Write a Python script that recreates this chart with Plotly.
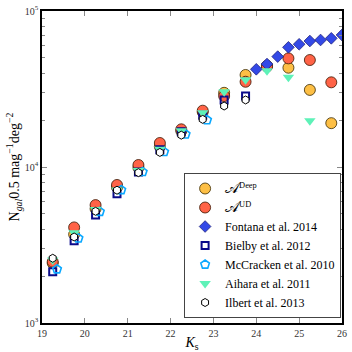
import plotly.graph_objects as go

# half-magnitude bin centres
ks = [19.25, 19.75, 20.25, 20.75, 21.25, 21.75, 22.25, 22.75,
      23.25, 23.75, 24.25, 24.75, 25.25, 25.75]

n_deep = [2420, 3700, 5400, 7400, 9900, 13500, 17000, 22500,
          29900, 38900, 44500, 43300, 31200, 19100]
n_ud = [2470, 4100, 5700, 7670, 10300, 14250, 17440, 22960,
        28500, 35200, 44000, 49700, 48500, 34900]

ks_fontana = [24.0, 24.25, 24.5, 24.75, 25.0, 25.25, 25.5, 25.75, 26.0]
n_fontana = [42300, 45700, 51000, 58500, 61200, 64200, 65200, 66800, 70200]

ks_bielby = [19.25, 19.75, 20.25, 20.75, 21.25, 21.75, 22.25, 22.75, 23.25, 23.75]
n_bielby = [2130, 3370, 4930, 6750, 9300, 12900, 16800, 21500, 26900, 28500]

ks_mccracken = [19.35, 19.85, 20.35, 20.85, 21.35, 21.85, 22.35, 22.85]
n_mccracken = [2210, 3490, 5170, 7120, 9300, 12500, 16200, 20000]

ks_aihara = [19.25, 19.75, 20.25, 20.75, 21.25, 21.75, 22.25, 22.75,
             23.25, 23.75, 24.25, 24.75, 25.25]
n_aihara = [2530, 3790, 5350, 7120, 9500, 13000, 17100, 22300,
            30400, 36300, 41400, 37600, 19800]

ks_ilbert = [19.25, 19.75, 20.25, 20.75, 21.25, 21.75, 22.25, 22.75, 23.25, 23.75]
n_ilbert = [2600, 3560, 5200, 7100, 9200, 12400, 16000, 20200, 24600, 26900]

FONT = "Liberation Serif"
CAL_A = "<span style='font-size:15px'>𝒜</span>"

fig = go.Figure()

fig.add_trace(go.Scatter(
    x=ks, y=n_deep, mode="markers", name=CAL_A + "<sup>Deep</sup>",
    marker=dict(symbol="circle", size=11, color="#FDBF45",
                line=dict(color="#3a2a00", width=0.8)),
))
fig.add_trace(go.Scatter(
    x=ks, y=n_ud, mode="markers", name=CAL_A + "<sup>UD</sup>",
    marker=dict(symbol="circle", size=11, color="#FF6347",
                line=dict(color="#3a1500", width=0.8)),
))
fig.add_trace(go.Scatter(
    x=ks_fontana, y=n_fontana, mode="markers", name="Fontana et al. 2014",
    marker=dict(symbol="diamond", size=9, color="#3349E6",
                line=dict(color="#15156e", width=0.7)),
))
fig.add_trace(go.Scatter(
    x=ks_bielby, y=n_bielby, mode="markers", name="Bielby et al. 2012",
    marker=dict(symbol="square-open", size=7, color="#0a0a8a",
                line=dict(width=2)),
))
fig.add_trace(go.Scatter(
    x=ks_mccracken, y=n_mccracken, mode="markers", name="McCracken et al. 2010",
    marker=dict(symbol="pentagon-open", size=9, color="#0AA8FF",
                line=dict(width=1.6)),
))
fig.add_trace(go.Scatter(
    x=ks_aihara, y=n_aihara, mode="markers", name="Aihara et al. 2011",
    marker=dict(symbol="triangle-down", size=10, color="#5EF2B8",
                line=dict(width=0)),
))
fig.add_trace(go.Scatter(
    x=ks_ilbert, y=n_ilbert, mode="markers", name="Ilbert et al. 2013",
    marker=dict(symbol="hexagon", size=8, color="white",
                line=dict(color="black", width=1)),
))

axis_common = dict(
    showline=True, linecolor="black", linewidth=1.6, mirror="ticks",
    ticks="inside", ticklen=5, tickcolor="#888", showgrid=False,
    zeroline=False, automargin=False,
    tickfont=dict(family=FONT, size=10, color="#333"),
)

fig.update_layout(
    width=352, height=352,
    margin=dict(l=42, r=10, t=11, b=29),
    plot_bgcolor="white", paper_bgcolor="white",
    font=dict(family=FONT, size=12, color="black"),
    showlegend=True,
    legend=dict(
        x=0.997, y=0.016, xanchor="right", yanchor="bottom",
        bgcolor="white", bordercolor="#444", borderwidth=1,
        font=dict(family=FONT, size=12), itemwidth=30,
    ),
    xaxis=dict(
        range=[19, 26], dtick=1, tick0=19,
        title=dict(text="<i>K</i><sub>s</sub>", font=dict(family=FONT, size=14),
                   standoff=2),
        **axis_common,
    ),
    yaxis=dict(
        type="log", range=[3, 5],
        tickvals=[1e3, 1e4, 1e5],
        ticktext=["10<sup>3</sup>", "10<sup>4</sup>", "10<sup>5</sup>"],
        minor=dict(ticks="inside", ticklen=3, tickcolor="#888", dtick="D1"),
        title=dict(text="N<sub><i>gal</i></sub>0.5 mag<sup>−1</sup>deg<sup>−2</sup>",
                   font=dict(family=FONT, size=14), standoff=2),
        **axis_common,
    ),
)

# the page body has a default margin; drop it so the figure fills the window
fig.write_html("out.html", config={"displayModeBar": False},
               post_script="document.body.style.margin='0';")
